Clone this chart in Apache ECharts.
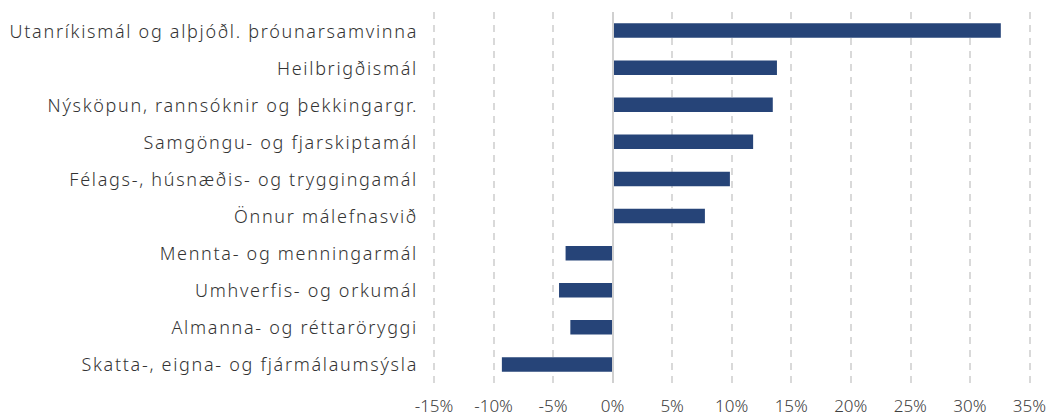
<!DOCTYPE html>
<html>
<head>
<meta charset="utf-8">
<script src="https://cdn.jsdelivr.net/npm/echarts@6/dist/echarts.min.js"></script>
<style>
html,body{margin:0;padding:0;background:#fff;}
#chart{width:1049px;height:416px;}
</style>
</head>
<body>
<div id="chart"></div>
<script>
const categories = [
  "Utanríkismál og alþjóðl. þróunarsamvinna",
  "Heilbrigðismál",
  "Nýsköpun, rannsóknir og þekkingargr.",
  "Samgöngu- og fjarskiptamál",
  "Félags-, húsnæðis- og tryggingamál",
  "Önnur málefnasvið",
  "Mennta- og menningarmál",
  "Umhverfis- og orkumál",
  "Almanna- og réttaröryggi",
  "Skatta-, eigna- og fjármálaumsýsla"
];
const values = [32.6, 13.8, 13.45, 11.8, 9.85, 7.75, -3.95, -4.5, -3.55, -9.3];
const xMin = -15, xMax = 35, xStep = 5;

const chart = echarts.init(document.getElementById('chart'), null, {renderer: 'svg'});
const font = '"Noto Sans", sans-serif';
chart.setOption({
  animation: false,
  grid: {left: 434, right: 19, top: 12, bottom: 33, containLabel: false},
  xAxis: {
    type: 'value', min: xMin, max: xMax, interval: xStep,
    axisLine: {show: false},
    axisTick: {show: false},
    axisLabel: {formatter: '{value}%', color: '#404040', fontSize: 17, lineHeight: 17, fontFamily: font, fontWeight: 300, margin: 14},
    splitLine: {show: true, lineStyle: {color: '#d9d9d9', width: 2, type: [7, 6]}}
  },
  yAxis: {
    type: 'category', data: categories, inverse: true,
    axisLine: {show: false},
    axisTick: {show: false},
    axisLabel: {color: '#333333', fontSize: 18, fontFamily: font, fontWeight: 300, margin: 16}
  },
  series: [{
    type: 'bar', data: values, barWidth: 14.5,
    itemStyle: {color: '#264478'},
    markLine: {
      silent: true, symbol: 'none', label: {show: false},
      lineStyle: {color: '#d0d0d0', width: 2, type: 'solid'},
      data: [{xAxis: 0}]
    }
  }]
});
function spaceLabels() {
  document.querySelectorAll('#chart text').forEach(function (t) {
    if (categories.indexOf(t.textContent) >= 0) {
      t.style.letterSpacing = '1.7px';
    }
  });
}
spaceLabels();
chart.on('finished', spaceLabels);
</script>
</body>
</html>
